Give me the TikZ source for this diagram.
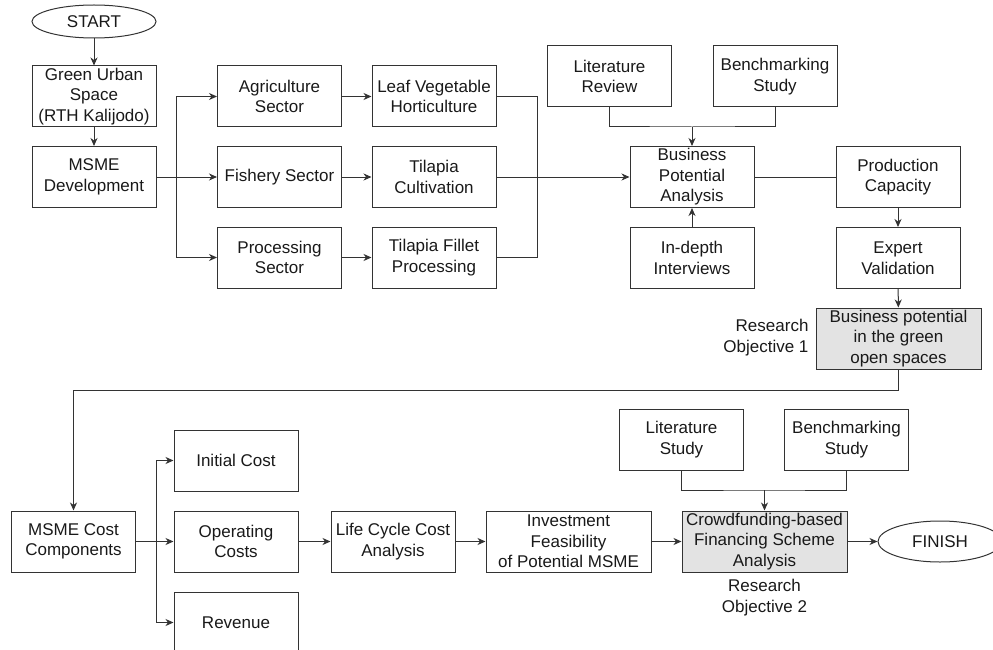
\documentclass[tikz,border=0pt]{standalone}
\usepackage{fontspec}
\setmainfont{Liberation Sans}
\usetikzlibrary{arrows.meta,shapes.geometric}
\begin{document}
\begin{tikzpicture}[x=1pt,y=-1pt,
  txt/.style={align=center,font=\fontsize{17}{20.5}\selectfont,text=black!90},
  box/.style={txt,draw=black!80,line width=1pt,minimum width=124pt,minimum height=61pt,inner sep=0pt},
  wbox/.style={box,minimum width=165pt},
  gbox/.style={wbox,fill=black!11},
  oval/.style={txt,draw=black!80,line width=1pt,ellipse,inner sep=0pt,minimum width=124pt},
  arr/.style={draw=black!80,line width=1pt,-{Stealth[length=8pt,width=7pt,inset=2.5pt]}},
  ln/.style={draw=black!80,line width=1pt}]
\useasboundingbox (0,0) rectangle (993,650);

% top part
\node[oval,minimum height=33pt] (start) at (94,21.5) {START};
\node[box] (gus) at (94,96.5) {Green Urban\\Space\\(RTH Kalijodo)};
\node[box] (msme) at (94,177) {MSME\\Development};
\node[box] (agri) at (279.5,96.5) {Agriculture\\Sector};
\node[box] (fish) at (279.5,177) {Fishery Sector};
\node[box] (proc) at (279.5,257.5) {Processing\\Sector};
\node[box] (leaf) at (434,96.5) {Leaf Vegetable\\Horticulture};
\node[box] (tcul) at (434,177) {Tilapia\\Cultivation};
\node[box] (fil) at (434,257.5) {Tilapia Fillet\\Processing};
\node[box] (litr) at (609.5,76.5) {Literature\\Review};
\node[box] (bench) at (775,76.5) {Benchmarking\\Study};
\node[box] (bpa) at (692,177) {Business\\Potential\\Analysis};
\node[box] (ind) at (692,258) {In-depth\\Interviews};
\node[box] (prod) at (898,177) {Production\\Capacity};
\node[box] (exp) at (898,258) {Expert\\Validation};
\node[gbox] (bpg) at (898.5,338.5) {Business potential\\in the green\\open spaces};
\node[txt,anchor=east,align=right] (ro1) at (812,337.5) {Research\\Objective 1};

\draw[arr] (start) -- (gus);
\draw[arr] (gus) -- (msme);
\coordinate (b1) at (176,177);
\draw[ln] (msme.east) -- (b1);
\draw[arr] (b1) -- (fish);
\draw[arr] (b1) |- (agri);
\draw[arr] (b1) |- (proc);
\draw[arr] (agri) -- (leaf);
\draw[arr] (fish) -- (tcul);
\draw[arr] (proc) -- (fil);
\draw[ln] (leaf.east) -- ++(41,0) |- (fil.east);
\draw[arr] (tcul) -- (bpa);
\coordinate (m1) at (692,127);
\draw[ln] (litr.south) |- (m1) -| (bench.south);
\draw[arr] (m1) -- (bpa);
\draw[arr] (ind) -- (bpa);
\draw[ln] (bpa) -- (prod);
\draw[arr] (prod) -- (exp);
\draw[arr] (exp) -- (bpg);

% bottom part
\node[box] (mcc) at (73.5,541.5) {MSME Cost\\Components};
\node[box] (init) at (236,460.5) {Initial Cost};
\node[box] (opc) at (236,541.5) {Operating\\Costs};
\node[box] (rev) at (236,622.5) {Revenue};
\node[box] (lcc) at (393,541.5) {Life Cycle Cost\\Analysis};
\node[wbox] (inv) at (568.5,541.5) {Investment\\Feasibility\\of Potential MSME};
\node[gbox] (crowd) at (764.5,541.5) {Crowdfunding-based\\Financing Scheme\\Analysis};
\node[oval,minimum height=41pt] (fin) at (940,541.5) {FINISH};
\node[box] (lits) at (681.5,439.5) {Literature\\Study};
\node[box] (bench2) at (846.5,439.5) {Benchmarking\\Study};
\node[txt] (ro2) at (764.5,597.5) {Research\\Objective 2};

\draw[arr] (bpg.south) -- ++(0,20.5) -| (mcc.north);
\coordinate (b2) at (156,541.5);
\draw[ln] (mcc) -- (b2);
\draw[arr] (b2) -- (opc);
\draw[arr] (b2) |- (init);
\draw[arr] (b2) |- (rev);
\draw[arr] (opc) -- (lcc);
\draw[arr] (lcc) -- (inv);
\draw[arr] (inv) -- (crowd);
\draw[arr] (crowd) -- (fin);
\coordinate (m2) at (764.5,490);
\draw[ln] (lits.south) |- (m2) -| (bench2.south);
\draw[arr] (m2) -- (crowd);
\end{tikzpicture}
\end{document}
